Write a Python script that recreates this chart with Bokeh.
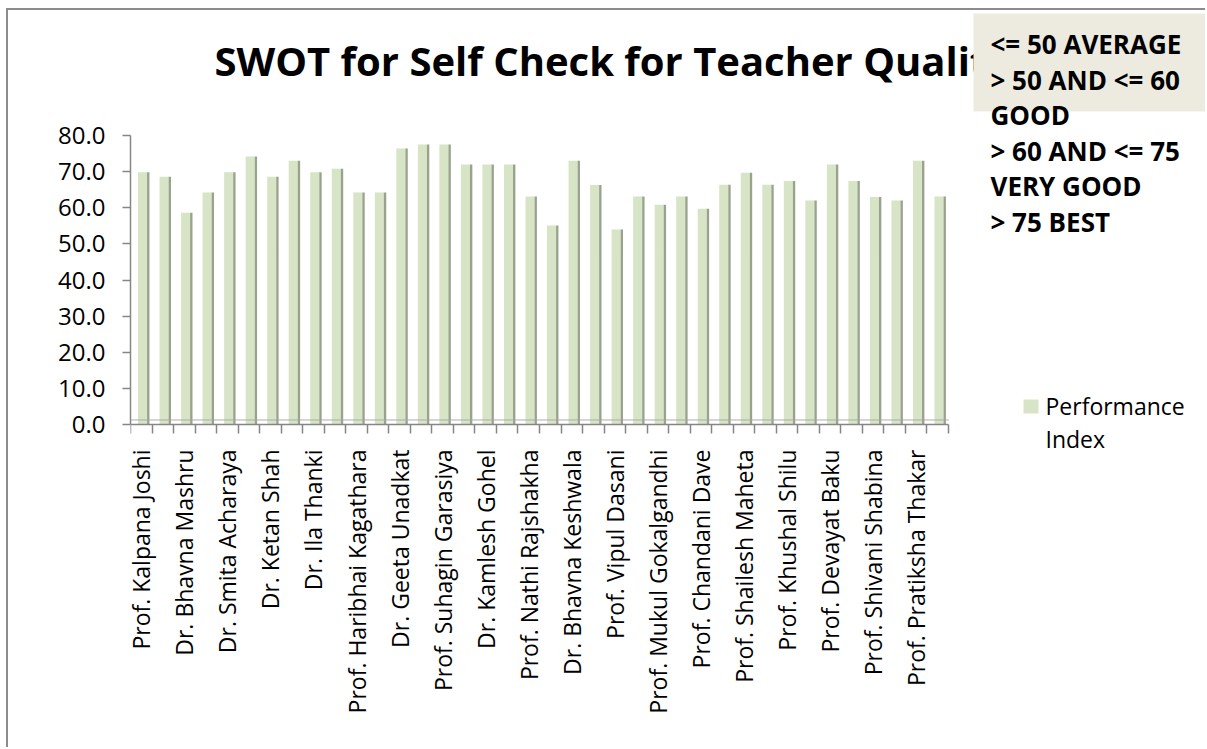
import math
from bokeh.plotting import figure
from bokeh.models import (Range1d, FixedTicker, NumeralTickFormatter, Label,
                          BoxAnnotation)
from bokeh.embed import file_html
from bokeh.resources import INLINE

# ---------------- data ----------------
values = [69.8, 68.6, 58.6, 64.2, 69.8, 74.2, 68.6, 73.0, 69.8, 70.8,
          64.2, 64.2, 76.4, 77.5, 77.5, 72.0, 72.0, 72.0, 63.1, 55.1,
          73.0, 66.3, 54.0, 63.1, 60.8, 63.1, 59.7, 66.4, 69.7, 66.4,
          67.4, 62.0, 72.0, 67.4, 63.0, 62.0, 73.0, 63.1]
# names shown on the axis (every other bar carries a label)
shown_names = ["Prof. Kalpana Joshi", "Dr. Bhavna Mashru", "Dr. Smita Acharaya",
               "Dr. Ketan Shah", "Dr. Ila Thanki", "Prof. Haribhai Kagathara",
               "Dr. Geeta Unadkat", "Prof. Suhagin Garasiya", "Dr. Kamlesh Gohel",
               "Prof. Nathi Rajshakha", "Dr. Bhavna Keshwala", "Prof. Vipul Dasani",
               "Prof. Mukul Gokalgandhi", "Prof. Chandani Dave", "Prof. Shailesh Maheta",
               "Prof. Khushal Shilu", "Prof. Devayat Baku", "Prof. Shivani Shabina",
               "Prof. Pratiksha Thakar"]
y_ticks = [0, 10, 20, 30, 40, 50, 60, 70, 80]
title_text = "SWOT for Self Check for Teacher Quality"
note_lines = ["<= 50 AVERAGE", "> 50 AND <= 60", "GOOD", "> 60 AND <= 75",
              "VERY GOOD", "> 75 BEST"]
series_name = ["Performance", "Index"]

FONT = "Open Sans"
FACE = "#D7E4C5"
SIDE = "#98A28D"
AXIS = "#868686"

n = len(values)
xs = list(range(1, n + 1))

# page geometry (pixels) of the plotting area
OX, OY = 8, 10            # canvas origin on the page (via margin/border styles)
FL, FR = 130, 1207        # frame left / right on page
Y0, Y80 = 424, 135        # page y of value 0 and value 80
X_LEFT_EDGE, X_RIGHT_EDGE = 130, 948   # page x of the category band
SX = (X_RIGHT_EDGE - X_LEFT_EDGE) / n
SY = (Y0 - Y80) / 80.0


def dx(px):
    return 0.5 + (px - X_LEFT_EDGE) / SX


def dy(py):
    return (Y0 - py) / SY


W = 1207 - OX
H = 749 - OY
p = figure(width=W, height=H, output_backend="svg", toolbar_location=None,
           x_range=Range1d(0.5, dx(FR)), y_range=Range1d(dy(OY + H), dy(OY)),
           min_border_left=FL - OX, min_border_right=0, min_border_top=0,
           min_border_bottom=0,
           styles={"margin-left": "%dpx" % (OX - 2), "margin-top": "%dpx" % (OY - 2),
                   "border-left": "2px solid #8C8C8C", "border-top": "2px solid #8C8C8C"})
p.outline_line_color = None
p.xgrid.visible = False
p.ygrid.visible = False
p.background_fill_color = "white"

# bars: front face + darker right side (3D look)
face_x = [x + 0.06 for x in xs]
side_x = [x + 0.325 for x in xs]
p.vbar(x=face_x, top=values, width=0.42, fill_color=FACE, line_color=None)
p.vbar(x=side_x, top=values, width=0.11, fill_color=SIDE, line_color=None)

# floor edge
p.add_layout(BoxAnnotation(left=0.5, right=n + 0.5, top=1.3, bottom=1.2,
                           fill_color="#A6A6A6", fill_alpha=1.0,
                           line_color="#A6A6A6", line_width=1))

# x axis (drawn at value 0)
xax = p.xaxis[0]
xax.fixed_location = 0
xax.bounds = (0.5, n + 0.5)
xax.ticker = FixedTicker(ticks=xs[::2], minor_ticks=[x - 0.5 for x in xs] + [n + 0.5])
xax.major_label_overrides = {x: nm for x, nm in zip(xs[::2], shown_names)}
xax.major_label_orientation = math.pi / 2
xax.major_tick_line_color = None
xax.major_tick_out = 0
xax.major_tick_in = 0
xax.minor_tick_out = 9
xax.minor_tick_in = 0
xax.minor_tick_line_color = AXIS
xax.minor_tick_line_width = 1.5
xax.axis_line_color = AXIS
xax.axis_line_width = 1.5
xax.major_label_text_font = FONT
xax.major_label_text_font_size = "23px"
xax.major_label_text_color = "black"
xax.major_label_standoff = 16

# y axis
yax = p.yaxis[0]
yax.bounds = (0, 80)
yax.ticker = FixedTicker(ticks=y_ticks)
yax.formatter = NumeralTickFormatter(format="0.0")
yax.major_tick_out = 8
yax.major_tick_in = 0
yax.minor_tick_line_color = None
yax.major_tick_line_color = AXIS
yax.major_tick_line_width = 1.5
yax.axis_line_color = AXIS
yax.axis_line_width = 1.5
yax.major_label_text_font = FONT
yax.major_label_text_font_size = "24px"
yax.major_label_text_color = "black"
yax.major_label_standoff = 17

# title (cap centre at page y 60)
p.add_layout(Label(x=dx(214), y=dy(60), text=title_text,
                   text_font=FONT, text_font_style="bold", text_font_size="40px",
                   text_color="black", text_baseline="middle"))

# rating note box
p.add_layout(BoxAnnotation(left=dx(973), right=dx(1215), top=dy(13), bottom=dy(111),
                           fill_color="#EDEBE0", fill_alpha=1.0, line_color=None))
for i, line in enumerate(note_lines):
    p.add_layout(Label(x=dx(990), y=dy(43.5 + i * 35.5), text=line, text_font=FONT,
                       text_font_style="bold", text_font_size="26px",
                       text_color="black", text_baseline="middle"))

# legend
p.add_layout(BoxAnnotation(left=dx(1023), right=dx(1038), top=dy(399), bottom=dy(413),
                           fill_color=FACE, fill_alpha=1.0, line_color=None))
for i, line in enumerate(series_name):
    p.add_layout(Label(x=dx(1045), y=dy(405.5 + i * 33), text=line, text_font=FONT,
                       text_font_size="23px", text_color="black",
                       text_baseline="middle"))

open("out.html", "w").write(file_html(p, INLINE))
